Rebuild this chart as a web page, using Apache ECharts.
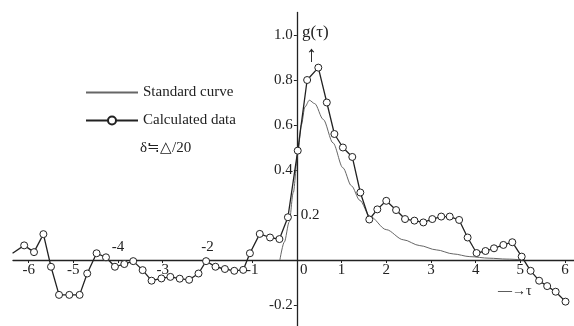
<!DOCTYPE html>
<html>
<head>
<meta charset="utf-8">
<script src="https://cdn.jsdelivr.net/npm/echarts@6/dist/echarts.min.js"></script>
<style>
  html, body { margin: 0; padding: 0; background: #fff; }
  #chart { width: 574px; height: 326px; }
</style>
</head>
<body>
<div id="chart"></div>
<script>
// calculated data (circles)
var tauCalc = [-6.36, -6.10, -5.88, -5.67, -5.50, -5.32, -5.09, -4.86, -4.69, -4.48,
  -4.27, -4.07, -3.86, -3.66, -3.45, -3.25, -3.03, -2.83, -2.62, -2.41,
  -2.20, -2.03, -1.82, -1.61, -1.40, -1.20, -1.05, -0.83, -0.60, -0.39,
  -0.20, 0.02, 0.23, 0.48, 0.67, 0.84, 1.03, 1.24, 1.42, 1.62,
  1.80, 2.00, 2.22, 2.42, 2.63, 2.83, 3.03, 3.23, 3.42, 3.63,
  3.82, 4.02, 4.22, 4.41, 4.62, 4.82, 5.03, 5.23, 5.42, 5.60,
  5.79, 6.01]
var gCalc = [0.03, 0.065, 0.035, 0.115, -0.03, -0.155, -0.155, -0.155, -0.06, 0.03,
  0.012, -0.03, -0.018, -0.005, -0.045, -0.092, -0.082, -0.075, -0.083, -0.088,
  -0.06, -0.005, -0.03, -0.04, -0.048, -0.044, 0.03, 0.116, 0.10, 0.093,
  0.19, 0.486, 0.80, 0.855, 0.70, 0.56, 0.50, 0.458, 0.30, 0.18,
  0.225, 0.263, 0.222, 0.182, 0.175, 0.167, 0.182, 0.193, 0.193, 0.178,
  0.10, 0.031, 0.04, 0.052, 0.067, 0.079, 0.015, -0.048, -0.092, -0.116,
  -0.141, -0.185]

// standard curve (thin line)
var tauStd = [-0.38, -0.28, -0.17, -0.08, 0.02, 0.10, 0.18, 0.28, 0.40, 0.59,
  0.81, 1.03, 1.22, 1.41, 1.63, 2.00, 2.38, 2.75, 3.12, 3.50,
  3.87, 4.30, 4.70, 5.10]
var gStd = [0, 0.08, 0.17, 0.30, 0.47, 0.60, 0.68, 0.71, 0.695, 0.625,
  0.52, 0.41, 0.33, 0.265, 0.195, 0.135, 0.09, 0.064, 0.045, 0.027,
  0.015, 0.008, 0.004, 0]

var xTicks = [-6, -5, -4, -3, -2, -1, 1, 2, 3, 4, 5, 6]
var xLabelsBelow = [-6, -5, -3, -1, 0, 1, 2, 3, 4, 5, 6]
var xLabelsAbove = [-4, -2]
var yTicks = [-0.2, 0.2, 0.4, 0.6, 0.8, 1.0]
var yLabelsLeft = [-0.2, 0.4, 0.6, 0.8, 1.0]
var yLabelsRight = [0.2]

var font = 'Liberation Serif'
var ink = '#222'

// plot box and axis extents
var gridLeft = 13, gridTop = 12.5, gridW = 561, gridH = 315
var xMin = -6.35, xMax = 6.2
var yMin = -0.3, yMax = 1.1
// axes cross at the origin, so shift them from the grid edge to the zero lines
var xAxisOffset = -gridH * (0 - yMin) / (yMax - yMin)
var yAxisOffset = -gridW * (0 - xMin) / (xMax - xMin)

function pairs(xs, ys) {
  return xs.map(function (x, i) { return [x, ys[i]] })
}

var chart = echarts.init(document.getElementById('chart'))

var option = {
  backgroundColor: '#fff',
  animation: false,
  title: [
    {
      text: 'δ≒△/20',
      left: 135,
      top: 136,
      textStyle: { fontFamily: font, fontSize: 15, fontWeight: 'normal', color: ink }
    },
    {
      // x axis name
      text: '—→τ',
      left: 493,
      top: 279,
      textStyle: { fontFamily: font, fontSize: 14, fontWeight: 'normal', color: ink }
    },
    {
      // y axis name with its little arrow
      text: '{g|g(τ)}\n{a|↑}',
      left: 298,
      top: 22,
      padding: 0,
      textStyle: {
        fontWeight: 'normal',
        rich: {
          g: { fontFamily: font, fontSize: 17, fontWeight: 'normal', color: ink, lineHeight: 22, padding: [0, 0, 0, 4] },
          a: { fontFamily: font, fontSize: 22, fontWeight: 'normal', color: ink, lineHeight: 22, padding: [0, 0, 0, 8] }
        }
      }
    }
  ],
  legend: {
    orient: 'vertical',
    left: 80,
    top: 80,
    itemWidth: 52,
    itemHeight: 10,
    itemGap: 13,
    textStyle: { fontFamily: font, fontSize: 15, color: ink },
    data: [
      { name: 'Standard curve', itemStyle: { color: 'rgba(0,0,0,0)', borderWidth: 0 } },
      'Calculated data'
    ]
  },
  grid: { left: gridLeft, top: gridTop, width: gridW, height: gridH, outerBoundsMode: 'none' },
  xAxis: [
    {
      type: 'value',
      min: xMin,
      max: xMax,
      position: 'bottom',
      offset: xAxisOffset,
      axisLine: { onZero: false, lineStyle: { color: ink, width: 1.3 } },
      axisTick: { customValues: xTicks, length: 3, lineStyle: { color: ink } },
      axisLabel: {
        customValues: xLabelsBelow,
        margin: 3,
        fontFamily: font,
        fontSize: 15,
        color: ink,
        formatter: function (v) {
          return v === 0 ? '{z|0}' : String(v)
        },
        rich: { z: { fontFamily: font, fontSize: 15, color: ink, padding: [0, 0, 0, 14] } }
      },
      splitLine: { show: false }
    },
    {
      type: 'value',
      min: xMin,
      max: xMax,
      position: 'bottom',
      offset: xAxisOffset,
      axisLine: { show: false, onZero: false },
      axisTick: { show: false },
      axisLabel: {
        inside: true,
        customValues: xLabelsAbove,
        margin: 5,
        fontFamily: font,
        fontSize: 15,
        color: ink
      },
      splitLine: { show: false }
    }
  ],
  yAxis: [
    {
      type: 'value',
      min: yMin,
      max: yMax,
      position: 'left',
      offset: yAxisOffset,
      axisLine: { onZero: false, lineStyle: { color: ink, width: 1.3 } },
      axisTick: { customValues: yTicks, length: 3, lineStyle: { color: ink } },
      axisLabel: {
        customValues: yLabelsLeft,
        margin: 4,
        fontFamily: font,
        fontSize: 15,
        color: ink,
        formatter: function (v) { return v.toFixed(1) }
      },
      splitLine: { show: false }
    },
    {
      type: 'value',
      min: yMin,
      max: yMax,
      position: 'left',
      offset: yAxisOffset,
      axisLine: { show: false, onZero: false },
      axisTick: { show: false },
      axisLabel: {
        inside: true,
        customValues: yLabelsRight,
        margin: 4,
        fontFamily: font,
        fontSize: 15,
        color: ink,
        formatter: function (v) { return v.toFixed(1) }
      },
      splitLine: { show: false }
    }
  ],
  series: [
    {
      name: 'Standard curve',
      type: 'line',
      data: pairs(tauStd, gStd),
      symbol: 'none',
      smooth: 0.3,
      smoothMonotone: 'x',
      itemStyle: { color: '#666' },
      lineStyle: { color: '#666', width: 1 },
      z: 2
    },
    {
      name: 'Calculated data',
      type: 'line',
      data: pairs(tauCalc, gCalc),
      symbol: 'circle',
      symbolSize: 7,
      itemStyle: { color: '#fff', borderColor: ink, borderWidth: 1 },
      lineStyle: { color: ink, width: 1.3 },
      z: 3
    }
  ]
}

chart.setOption(option)
</script>
</body>
</html>
